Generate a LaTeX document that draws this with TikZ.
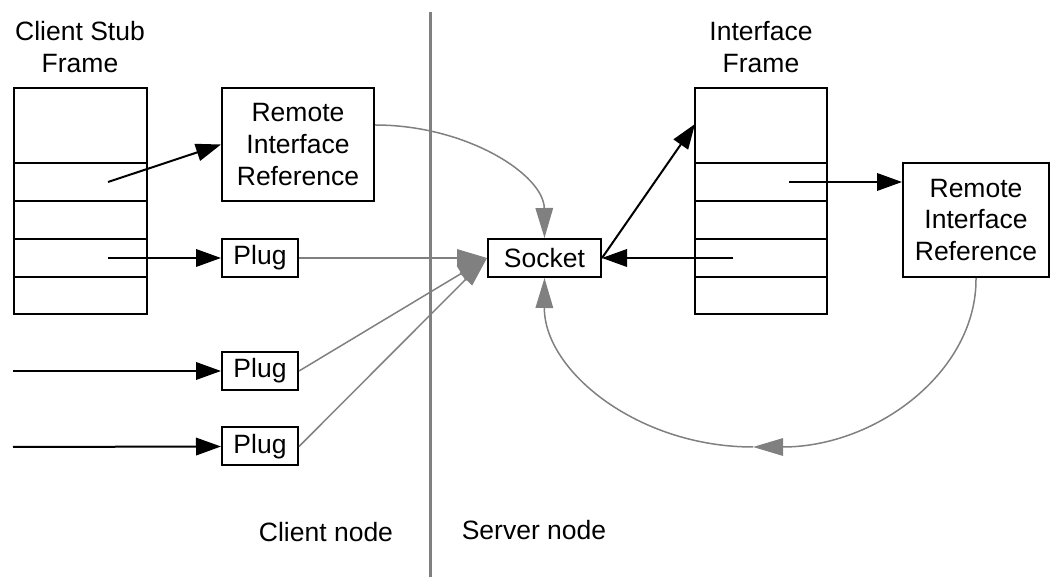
\documentclass[tikz,border=0pt]{standalone}
\usepackage{fontspec}
\setmainfont{Liberation Sans}
\usetikzlibrary{arrows.meta}
\begin{document}
\begin{tikzpicture}[x=0.4pt, y=-0.4pt, font=\fontsize{10.6}{12.7}\selectfont,
    box/.style = {draw, line width=0.8pt, inner sep=0pt, align=center},
    lbl/.style = {align=center, inner sep=0pt},
    blk/.style = {-{Triangle[length=10pt,width=7pt]}, line width=0.8pt},
    gry/.style = {-{Triangle[length=12pt,width=7pt]}, draw=gray, line width=0.6pt}]
\useasboundingbox (0,0) rectangle (1053,577);
% frames
\draw[line width=0.8pt] (14,88) rectangle (147,314);
\draw[line width=0.8pt] (695,88) rectangle (827,314);
\foreach \y in {163,201,239,277} {
    \draw[line width=0.8pt] (14,\y) -- (147,\y);
    \draw[line width=0.8pt] (695,\y) -- (827,\y);
}
\node[lbl] (clientframe) at (80,47) {Client Stub\\Frame};
\node[lbl] (ifframe) at (761,47) {Interface\\Frame};
% slots
\coordinate (cs2) at (108,182);
\coordinate (cs4) at (108,258);
\coordinate (if1) at (695,124);
\coordinate (if2) at (789,182);
\coordinate (if4) at (733,258);
\coordinate (in2) at (13,371);
\coordinate (in3) at (13,447);
\coordinate (loop) at (753,447);
% boxes
\node[box, minimum width=60.8pt, minimum height=45.2pt] (rirL) at (298,144.5) {Remote\\Interface\\Reference};
\node[box, minimum width=58.4pt, minimum height=45.6pt] (rirR) at (976,220) {Remote\\Interface\\Reference};
\node[box, minimum width=30.4pt, minimum height=15.2pt] (plug1) at (260,258) {Plug};
\node[box, minimum width=30.4pt, minimum height=15.2pt] (plug2) at (260,371) {Plug};
\node[box, minimum width=30.4pt, minimum height=15.2pt] (plug3) at (260,446.5) {Plug};
\node[box, minimum width=45.2pt, minimum height=15.2pt] (socket) at (544.5,258) {Socket};
% divider
\draw[gray, line width=1.2pt] (430,12) -- (430,577);
\node[lbl] (client) at (326,532) {Client node};
\node[lbl] (server) at (534,530) {Server node};
% black arrows
\draw[blk] (cs2) -- (rirL.west);
\draw[blk] (cs4) -- (plug1.west);
\draw[blk] (in2) -- (plug2.west);
\draw[blk] (in3) -- (plug3.west);
\draw[blk] (socket.east) -- (if1);
\draw[blk] (if4) -- (socket.east);
\draw[blk] (if2) -- (if2 -| rirR.west);
% gray arrows
\draw[gry] (plug1.east) -- (socket.west);
\draw[gry] (plug2.east) -- (socket.west);
\draw[gry] (plug3.east) -- (socket.west);
\draw[gry] ([yshift=7.8pt]rirL.east) .. controls (467,125) and (544,175) .. (socket.north);
\draw[gry] (rirR.south) .. controls (977,371) and (877,447) .. (loop);
\draw[gry] (loop) .. controls (638,447) and (544,371) .. (socket.south);
\end{tikzpicture}
\end{document}
